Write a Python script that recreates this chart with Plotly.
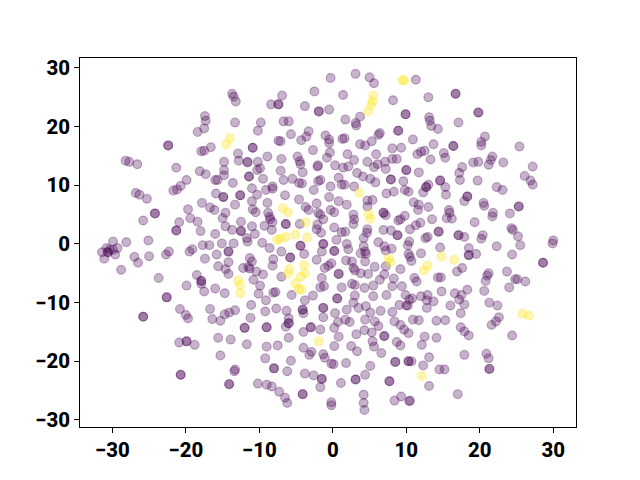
import plotly.graph_objects as go

# Values: (x, y)
purple_points = [
(-13.7,25.6),(-13.5,25.1),(-13.2,24.3),(-13.3,20.7),(-17.4,21.8),(-17.3,21.0),(-17.5,19.7),(-18.4,19.1),
(-22.4,16.8),(-22.4,16.8),(-17.9,15.8),(-17.5,15.9),(-16.6,16.5),(-28.2,14.2),(-27.7,14.0),(-26.6,13.6),
(-21.3,13.0),(-12.9,15.4),(-12.8,14.2),(-11.6,13.9),(-14.8,14.0),(-14.8,12.6),(-14.8,11.7),(-18.1,12.4),
(-17.3,11.9),(-19.9,10.9),(-16.0,10.9),(-15.7,10.9),
(3.1,29.0),(-0.3,28.3),(5.0,28.4),(5.6,27.4),(-2.5,26.0),(1.4,25.4),(-6.9,25.3),(-8.4,23.8),(-7.4,23.8),(-7.4,23.8),
(-3.8,23.5),(-1.9,22.6),(-1.9,22.6),(-0.5,22.9),(8.2,24.5),(9.9,22.1),(9.9,22.1),(1.7,21.2),(3.7,21.7),(3.1,20.6),
(3.2,20.2),(-9.8,20.7),(-10.2,19.3),(-6.7,20.9),(-6.0,20.9),(-3.3,19.2),(-5.7,18.7),(-3.6,18.3),(-4.3,17.7),
(-1.0,18.5),(-0.5,17.8),(-0.5,17.2),(1.6,18.0),(1.3,17.9),(6.4,18.9),(6.2,18.6),(8.9,19.3),(8.9,19.3),(-7.4,17.6),
(-7.1,17.5),(-10.9,16.4),(-10.9,16.4),(-2.7,16.0),(3.7,17.0),(4.4,16.8),(5.3,17.5),(8.1,16.3),(9.3,16.4),(5.9,15.3),
(2.0,15.3),(-0.4,15.6),(-0.8,14.7),(-8.9,14.9),(-7.0,14.5),(-4.8,14.9),(-4.5,14.1),(-4.4,13.6),(-11.6,14.0),
(-10.2,14.0),(-9.9,12.9),(-10.3,12.6),(-7.1,12.5),(2.9,14.3),(0.3,13.4),(-2.0,13.4),(-2.1,13.2),(1.4,13.0),(2.1,13.2),
(4.7,14.0),(6.1,13.6),(5.6,13.1),(7.1,14.0),(7.2,12.8),(8.1,14.5),(8.7,14.5),(10.0,12.6),(10.0,12.6),(-4.1,12.2),
(3.3,12.1),(4.1,11.5),(5.1,11.1),(7.9,11.0),(7.9,11.0),(-11.4,11.5),(-11.4,11.5),(-9.5,11.1),(-6.7,10.9),(-5.5,11.1),
(0.8,11.3),(-1.7,10.9),
(11.3,28.0),(13.0,25.0),(16.7,25.6),(16.7,25.6),(19.8,22.4),(19.8,22.4),(17.1,20.7),(13.1,21.6),(13.2,21.0),(13.4,20.1),
(14.3,19.6),(20.7,18.3),(20.2,17.4),(20.2,16.8),(10.9,17.8),(13.7,17.0),(16.4,16.7),(16.4,16.7),(25.4,16.6),(12.5,15.9),
(12.0,15.7),(11.5,15.3),(15.1,15.5),(15.3,14.7),(13.3,14.4),(21.7,14.9),(21.5,14.3),(21.2,13.5),(19.1,13.9),(19.8,14.0),
(23.2,13.9),(17.6,13.1),(17.2,12.1),(27.2,13.2),(26.1,11.6),(17.3,10.9),(14.6,10.8),(14.6,10.8),(26.9,10.8),(19.7,10.8),
(11.7,12.2),
(-26.8,8.7),(-26.3,8.4),(-25.3,7.7),(-21.7,9.1),(-21.2,9.3),(-20.7,9.9),(-13.6,10.4),(-15.9,8.6),(-14.9,8.0),(-14.9,8.0),
(-12.6,8.3),(-12.6,8.3),(-13.3,6.7),(-24.2,5.2),(-24.2,5.2),(-25.8,4.0),(-19.7,5.9),(-17.8,7.0),(-16.7,6.2),(-16.1,5.8),
(-14.6,5.3),(-15.0,4.4),(-19.4,4.4),(-18.4,3.8),(-20.9,3.7),(-21.3,2.3),(-21.3,2.3),(-18.0,2.2),(-14.6,3.0),(-13.7,2.4),
(-12.5,2.2),(-12.5,2.2),(-12.5,3.8),(-16.0,1.7),(-11.7,1.0),(-11.6,0.4),(-29.9,0.4),(-28.1,0.3),(-25.1,0.6),(-15.1,0.1),
(-13.5,0.1),(-17.7,-0.2),(-16.8,-0.2),(-31.1,-2.5),(-30.8,-0.7),(-31.4,-1.4),(-30.6,-1.4),(-30.6,-1.4),(-29.9,-1.0),
(-29.3,-0.7),(-29.6,-1.8),(-30.4,-1.0),(-27.0,-2.2),(-26.5,-3.2),(-25.0,-2.1),(-22.3,-1.3),(-22.7,-1.8),(-19.1,-0.9),
(-19.5,-1.3),(-17.4,-2.5),(-15.8,-1.8),(-14.2,-1.3),(-14.2,-1.3),(-14.2,-3.1),(-15.6,-3.8),(-14.6,-4.3),(-14.2,-5.1),
(-12.2,-4.1),(-11.5,-3.9),(-28.8,-4.4),(-23.7,-5.8),(-18.5,-5.3),(-17.9,-6.3),(-17.9,-6.3),(-17.9,-6.8),(-19.9,-7.1),
(-17.5,-8.1),(-16.0,-7.6),(-14.7,-8.4),(-22.6,-9.1),(-22.6,-9.1),
(-11.0,9.5),(-8.2,9.8),(-8.2,9.4),(-10.3,8.4),(-9.1,9.2),(-6.5,8.3),(-4.2,10.3),(-4.6,10.4),(-4.6,7.6),(-2.6,9.2),(-2.0,10.7),
(-0.3,9.8),(-0.5,8.0),(1.6,10.1),(1.2,10.1),(2.9,9.8),(5.8,10.5),(9.6,10.7),(9.8,9.2),(10.3,8.9),(7.3,8.6),(8.3,8.9),
(4.7,7.4),(5.4,7.5),(4.7,6.4),(0.8,7.3),(1.9,6.7),(-0.3,5.8),(0.2,5.4),(-2.2,6.9),(-2.0,5.3),(-1.7,5.0),(-1.3,4.2),
(-3.7,6.3),(-3.3,5.8),(-11.0,7.3),(-10.9,5.9),(-10.5,5.4),(-8.9,7.0),(-8.8,5.3),(-8.5,4.2),(-8.2,3.7),(-8.6,4.6),
(-6.4,3.4),(-6.4,3.4),(-9.3,3.1),(-8.3,2.4),(-11.0,3.0),(-10.6,1.7),(-9.6,0.2),(-8.6,-0.7),(-4.5,3.4),(-2.1,3.3),
(-2.2,2.5),(-1.6,1.9),(0.2,2.8),(1.2,2.0),(1.7,2.1),(0.5,0.7),(2.8,5.0),(2.9,4.2),(2.8,3.4),(6.9,5.3),(6.9,5.3),(7.2,4.9),
(9.8,4.8),(9.2,4.2),(8.9,4.0),(6.9,2.4),(7.9,2.3),(8.8,1.5),(8.8,1.5),(4.7,2.5),(4.65,1.9),(4.2,1.0),(6.2,0.3),(7.0,-0.4),
(7.2,-1.1),(8.0,-0.8),(-1.3,0.0),(-1.3,0.0),(-1.5,-1.3),(0.2,-1.2),(0.2,-1.2),(1.9,0.0),(2.1,-0.9),(3.8,-1.6),(4.2,-0.4),
(4.4,-1.3),(4.5,-1.7),(-4.4,-0.3),(-4.4,-0.3),(-3.9,-1.7),(-5.8,-2.3),(-5.8,-2.3),(-7.0,-1.3),(-8.1,-2.6),(-8.2,-3.7),
(-11.3,-2.4),(-11.0,-3.0),(-11.3,-4.2),(-10.4,-4.7),(-9.5,-5.2),(-10.8,-6.1),(-7.0,-5.6),(-2.2,-2.7),(1.8,-2.8),(2.6,-3.0),
(2.8,-4.1),(3.0,-4.5),(4.4,-3.0),(3.8,-5.0),(4.8,-5.1),(5.7,-3.9),(7.2,-3.8),(7.0,-5.2),(6.4,-6.1),(9.2,-4.3),(-1.1,-4.1),
(-1.5,-5.8),(0.8,-5.1),(0.8,-5.1),(-0.6,-3.7),(-0.2,-3.3),(-1.2,-7.2),(-1.7,-7.4),(1.2,-7.4),(2.6,-6.8),(3.0,-7.0),
(4.3,-7.5),(5.5,-7.1),(8.3,-5.9),(8.1,-7.2),(9.4,-7.2),(-9.9,-7.1),(-8.1,-8.3),(-7.8,-8.2),(-10.1,-8.5),(-9.1,-9.6),
(-11.1,-10.4),(-5.6,-8.7),(-2.7,-8.8),(-3.8,-9.6),(0.6,-9.3),(0.6,-9.3),(3.0,-8.8),(2.8,-10.0),(5.5,-8.9),(7.3,-8.7),
(10.4,-9.5),(9.9,-8.7),
(13.0,10.1),(12.7,9.7),(12.7,9.7),(12.3,8.8),(15.3,9.7),(15.4,8.4),(22.3,9.7),(23.1,9.2),(27.2,10.1),(18.3,8.1),(18.3,8.1),
(17.9,7.3),(20.5,7.0),(20.6,6.5),(11.0,7.1),(11.7,6.7),(11.6,5.8),(13.0,6.3),(25.3,6.4),(25.3,6.4),(21.8,5.3),(21.7,4.7),
(24.1,5.2),(15.8,5.8),(15.9,5.3),(15.5,4.4),(16.2,4.3),(13.5,4.2),(19.3,3.7),(11.9,3.6),(11.3,3.2),(10.5,2.5),(14.4,2.1),
(14.4,2.1),(17.1,1.5),(17.1,1.5),(17.9,1.2),(20.4,1.5),(20.2,0.9),(24.3,2.7),(24.5,2.4),(25.2,1.3),(25.5,-0.2),(12.6,1.0),
(12.9,1.2),(10.4,0.4),(10.2,-0.2),(14.6,-0.6),(22.3,-0.4),(18.5,-0.7),(18.5,-1.9),(18.5,-1.9),(19.5,-1.7),(12.0,-1.6),
(10.3,-1.7),(10.5,-2.2),(10.7,-2.9),(24.4,-1.8),(30.0,0.6),(29.9,0.1),(28.6,-3.2),(28.6,-3.2),(17.6,-4.1),(16.9,-4.7),
(23.7,-4.7),(21.2,-5.0),(21.0,-5.4),(20.8,-6.3),(24.8,-6.0),(25.1,-6.0),(26.2,-6.4),(14.3,-5.7),(14.7,-5.7),(11.1,-5.8),
(11.4,-6.4),(24.0,-7.4),(18.3,-7.8),(20.6,-8.0),(14.8,-8.1),(16.6,-8.4),(17.5,-8.7),(17.2,-9.5),(10.8,-9.3),(12.0,-8.9),
(12.9,-8.7),(12.8,-9.6),(13.7,-9.8),(10.2,-10.5),(16.0,-10.5),(17.9,-10.3),(21.3,-10.0),(22.4,-10.5),
(-25.8,-12.4),(-25.8,-12.4),(-20.8,-11.1),(-20.0,-12.1),(-19.7,-12.7),(-16.7,-11.1),(-16.4,-12.8),(-15.3,-13.1),(-14.7,-12.0),
(-14.1,-11.7),(-13.3,-11.3),(-11.2,-12.6),(-12.0,-14.3),(-12.0,-14.3),(-20.9,-16.8),(-19.9,-16.6),(-19.9,-16.6),(-18.8,-17.2),
(-15.6,-16.0),(-13.9,-16.3),(-11.7,-17.1),(-15.3,-19.0),(-20.7,-22.3),(-20.7,-22.3),(-13.3,-21.4),(-13.4,-21.7),(-14.1,-23.9),(-14.1,-23.9),
(-9.2,-11.5),(-7.7,-11.0),(-6.3,-11.4),(-4.1,-11.2),(-4.1,-11.2),(-4.0,-11.8),(-1.3,-10.9),(-1.3,-10.9),(0.3,-11.8),(1.9,-11.2),
(3.5,-10.9),(4.5,-10.6),(5.1,-11.7),(6.5,-11.4),(8.1,-11.6),(10.0,-10.5),(9.05,-10.4),(-6.0,-12.7),(-6.0,-13.5),(-6.0,-13.5),
(-6.4,-14.1),(-9.0,-14.2),(-9.0,-14.2),(-4.0,-15.0),(-3.0,-14.2),(-3.0,-14.2),(-1.7,-14.6),(-1.3,-12.5),(0.2,-14.3),(0.7,-13.3),
(1.7,-12.9),(2.3,-13.3),(4.4,-12.9),(5.7,-13.2),(6.2,-14.0),(8.4,-13.2),(9.2,-13.8),(9.7,-14.6),(10.3,-15.2),(3.2,-15.4),
(4.3,-14.7),(5.3,-15.1),(7.0,-15.7),(7.0,-15.7),(0.8,-15.8),(-6.0,-16.0),(5.4,-16.6),(8.7,-16.7),(9.2,-17.3),(5.6,-17.5),
(6.6,-18.6),(-9.0,-17.5),(-7.5,-17.3),(-4.0,-17.7),(0.2,-17.4),(2.5,-17.4),(3.3,-18.3),(-2.9,-18.4),(-3.2,-18.9),(-1.3,-18.8),
(-1.1,-19.4),(-0.2,-20.4),(0.1,-20.5),(1.8,-20.3),(-9.2,-19.5),(-5.7,-19.9),(-8.0,-21.2),(-8.0,-21.2),(-6.2,-21.7),(5.1,-20.8),
(8.5,-20.1),(8.5,-20.1),(10.3,-20.0),(10.3,-20.0),(-3.8,-22.1),(-2.6,-22.4),(-1.5,-23.0),(-1.5,-23.0),(-1.7,-24.4),(4.4,-22.3),
(3.1,-23.1),(3.1,-23.1),(1.1,-23.7),(7.7,-23.4),(7.7,-23.4),(-10.2,-23.8),(-9.0,-24.0),(-8.3,-24.3),(-7.3,-25.2),(-6.5,-26.2),
(-6.2,-27.1),(-4.1,-25.6),(-4.1,-25.6),(-0.2,-27.0),(-0.2,-27.5),(4.2,-25.7),(4.2,-27.1),(4.3,-28.3),(9.3,-26.0),(8.4,-26.7),(10.4,-26.8),
(12.8,-10.9),(17.4,-11.8),(10.9,-12.9),(11.7,-13.0),(14.1,-13.1),(15.3,-13.0),(22.6,-12.5),(22.2,-13.2),(21.6,-13.8),(17.4,-14.2),
(17.9,-14.9),(18.5,-15.6),(24.4,-15.6),(12.5,-15.8),(14.1,-16.0),(12.1,-17.2),(17.9,-18.9),(20.9,-18.7),(21.2,-19.5),(21.3,-21.3),
(21.3,-21.3),(13.1,-19.3),(12.3,-20.7),(10.7,-20.0),(14.5,-21.4),(15.2,-21.4),(13.1,-24.2),(17.0,-25.6),(10.5,-26.7),
]
yellow_points = [
(-14.0,18.0),(-14.5,17.0),(9.5,27.9),(9.7,27.9),(5.5,25.3),(5.4,24.3),(5.2,23.7),(4.8,22.6),
(-12.9,-6.2),(-12.6,-7.0),(-12.6,-8.4),(3.6,8.7),(-6.8,6.1),(-6.1,5.4),(-3.7,3.7),(-5.1,1.6),(-6.4,1.2),(-7.1,0.9),(-7.6,0.7),
(-3.5,1.1),(4.9,5.1),(5.1,4.3),(7.6,-2.5),(7.8,-3.1),(-5.9,-4.3),(-6.1,-5.1),(-3.9,-3.6),(-3.8,-5.0),(-4.4,-5.6),(-5.1,-6.7),
(-4.6,-7.7),(-4.3,-7.8),(14.8,-2.1),(16.5,-2.7),(12.9,-3.7),(12.4,-4.5),(-1.9,-16.6),(25.8,-11.9),(26.7,-12.2),(12.1,-22.5),
]
tick_values = [-30, -20, -10, 0, 10, 20, 30]

purple_x, purple_y = zip(*purple_points)
yellow_x, yellow_y = zip(*yellow_points)

def series(xs, ys, rgb, alpha):
    c = f"rgba({rgb},{alpha})"
    return go.Scatter(x=list(xs), y=list(ys), mode="markers", showlegend=False, hoverinfo="skip",
                      marker=dict(size=8.8, color=c, line=dict(color=c, width=1.2)))

fig = go.Figure([series(purple_x, purple_y, "68,1,84", 0.3), series(yellow_x, yellow_y, "253,231,37", 0.36)])

axis = dict(tickmode="array", tickvals=tick_values, ticks="outside", ticklen=4.9, tickwidth=1.1, tickcolor="black",
            showgrid=False, zeroline=False, showline=True, mirror=True, linecolor="black", linewidth=1.1,
            tickfont=dict(family="Roboto", size=20.4, color="black", weight=800))
fig.update_layout(width=640, height=480, autosize=False, plot_bgcolor="white", paper_bgcolor="white",
                  margin=dict(l=80, r=64, t=57.6, b=52.8, pad=0),
                  xaxis=dict(range=[-34.4, 33.09], **axis),
                  yaxis=dict(range=[-31.2, 31.7], **axis))
fig.write_html("out.html", post_script="document.body.style.margin='0';", config={"displayModeBar": False})
